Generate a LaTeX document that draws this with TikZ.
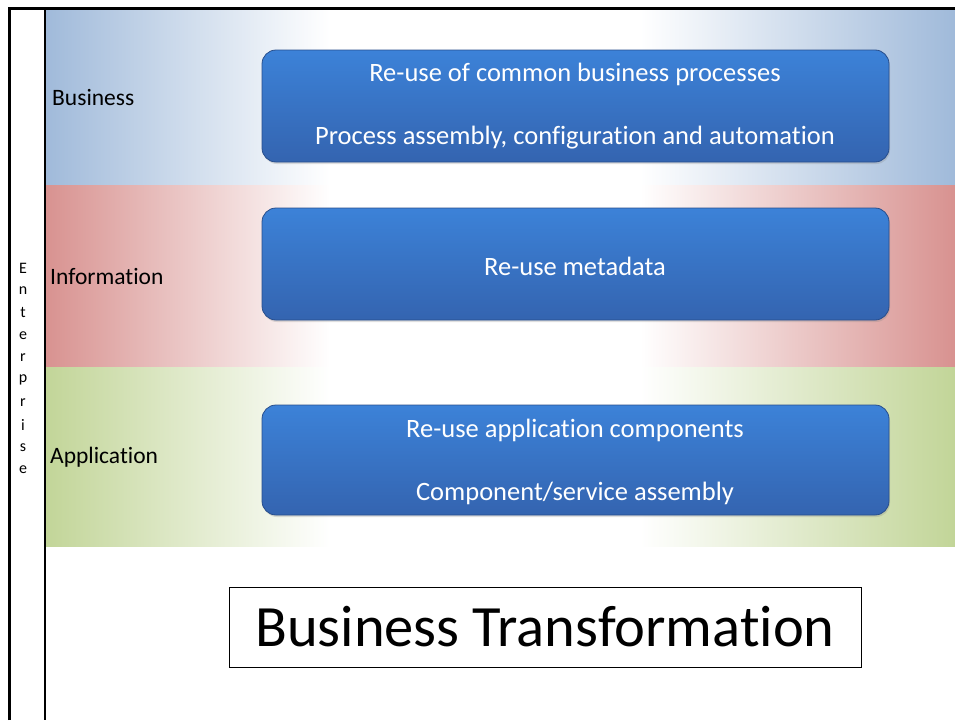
\documentclass[tikz,border=0pt]{standalone}
\usepackage{fontspec}
\setmainfont[Ligatures=NoCommon]{Carlito}
\usetikzlibrary{shadows}
\definecolor{bandblue}{RGB}{160,186,218}
\definecolor{bandred}{RGB}{216,146,144}
\definecolor{bandgreen}{RGB}{194,213,152}
\definecolor{boxtop}{RGB}{60,130,216}
\definecolor{boxbot}{RGB}{52,100,176}
\definecolor{boxedge}{RGB}{40,78,140}
\tikzset{
  bluebox/.style={rounded corners=14pt, top color=boxtop, bottom color=boxbot, draw=boxedge, line width=0.8pt},
  boxtext/.style={text=white, font=\fontsize{26.5}{30}\selectfont, anchor=center, inner sep=0pt},
  layerlabel/.style={anchor=west, font=\fontsize{23.5}{28}\selectfont, inner sep=0pt},
  vletter/.style={font=\fontsize{16}{18}\selectfont, anchor=center, inner sep=0pt}
}
\begin{document}
\begin{tikzpicture}[x=1pt,y=-1pt]
\useasboundingbox (0,0) rectangle (955,720);
\fill[white] (0,0) rectangle (955,720);
% bands
\foreach \c/\ya/\yb in {bandblue/8/185, bandred/185/367, bandgreen/367/546}{
  \shade[left color=\c, right color=white] (45,\ya) rectangle (330,\yb);
  \fill[white] (329,\ya) rectangle (641,\yb);
  \shade[left color=white, right color=\c] (640,\ya) rectangle (955,\yb);
}
% frame lines
\draw[line width=3pt] (9,720) -- (9,8) -- (955,8);
\draw[line width=1.3pt] (45,8) -- (45,720);
% layer labels
\node[layerlabel] (lbus) at (52,98) {Business};
\node[layerlabel] (linf) at (50,276) {Information};
\node[layerlabel] (lapp) at (50,457) {Application};
% Enterprise vertical
\foreach \l [count=\i from 0] in {E,n,t,e,r,p,r,i,s,e}{
  \node[vletter] (ent\i) at (23,{268+\i*22.4}) {\l};
}
% blue boxes
\path[bluebox, drop shadow={opacity=0.25, shadow xshift=1pt, shadow yshift=-2pt}] (262,50) rectangle (889,162);
\node[boxtext] (b1) at (575,74) {Re-use of common business processes};
\node[boxtext] (b2) at (575,138) {Process assembly, configuration and automation};
\path[bluebox, drop shadow={opacity=0.25, shadow xshift=1pt, shadow yshift=-2pt}] (262,208) rectangle (889,320);
\node[boxtext] (i1) at (575,266) {Re-use metadata};
\path[bluebox, drop shadow={opacity=0.25, shadow xshift=1pt, shadow yshift=-2pt}] (262,405) rectangle (889,515);
\node[boxtext] (a1) at (575,430) {Re-use application components};
\node[boxtext] (a2) at (575,493) {Component/service assembly};
% bottom
\node[draw, line width=1pt, minimum width=632pt, minimum height=80pt, font=\fontsize{58.5}{63}\selectfont, inner sep=0pt] (bt) at (545,627) {Business Transformation};
\end{tikzpicture}
\end{document}
